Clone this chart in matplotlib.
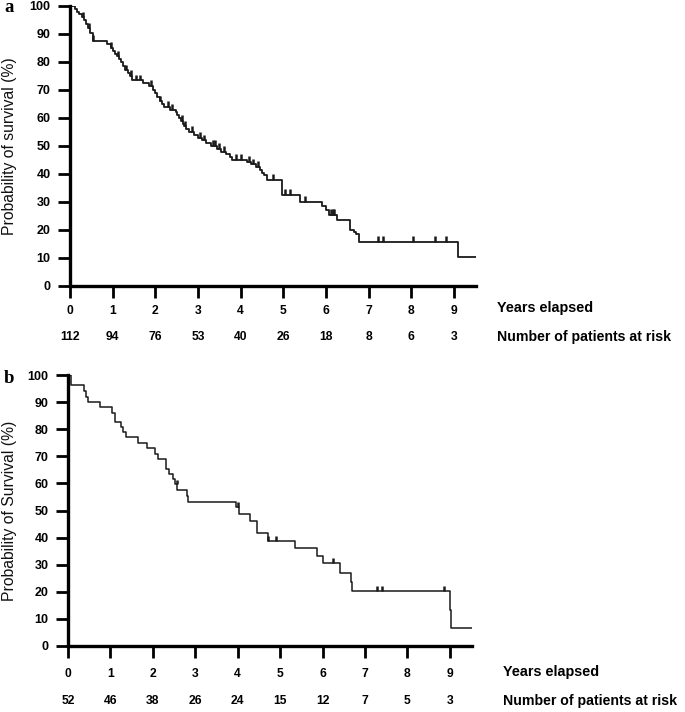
import numpy as np
import matplotlib
matplotlib.use('Agg')
import matplotlib.pyplot as plt

plt.rcParams['font.family'] = ['Liberation Sans', 'DejaVu Sans']

# panel a - event times (years) and survival (%) after each step
times_a = [0.12, 0.17, 0.22, 0.27, 0.33, 0.38, 0.43, 0.48, 0.53, 0.87, 0.95, 1.0, 1.05, 1.1, 1.15, 1.2,
           1.25, 1.3, 1.35, 1.4, 1.45, 1.7, 1.85, 1.95, 2.0, 2.05, 2.1, 2.15, 2.2, 2.35, 2.48, 2.52, 2.56,
           2.6, 2.64, 2.68, 2.72, 2.8, 2.9, 3.0, 3.1, 3.2, 3.3, 3.45, 3.55, 3.65, 3.75, 3.8, 4.15, 4.25,
           4.35, 4.45, 4.5, 4.55, 4.62, 4.96, 5.39, 5.9, 6.0, 6.08, 6.25, 6.56, 6.65, 6.7, 6.77, 9.09]
surv_a = [99, 98, 97, 96, 95, 93.5, 92, 90.5, 87.5, 86.5, 85, 84, 83, 82, 81, 80,
          78.5, 77, 76, 75, 73.5, 72.5, 71.5, 70, 69, 67.5, 66, 65, 64, 63, 62, 61, 60,
          59, 58, 57, 56, 55, 54, 53, 52, 51, 50, 49, 48, 47, 46, 45, 44.3, 43.5,
          42.5, 41.5, 40.5, 39.5, 38, 32.5, 30, 28.5, 27, 25.5, 23.6, 20, 19.3, 18.6, 15.8, 10.5]
cens_a = [0.05, 0.3, 0.45, 0.55, 0.97, 1.12, 1.32, 1.42, 1.55, 1.65, 1.9, 2.1, 2.3, 2.4, 2.62, 2.7,
          2.85, 3.05, 3.15, 3.35, 3.4, 3.5, 3.6, 3.9, 4.0, 4.2, 4.3, 4.4, 4.75, 5.05, 5.15, 5.5,
          6.12, 6.17, 6.2, 7.22, 7.34, 8.04, 8.55, 8.81]
risk_a = [112, 94, 76, 53, 40, 26, 18, 8, 6, 3]

# panel b
times_b = [0.06, 0.38, 0.42, 0.48, 0.75, 1.03, 1.1, 1.25, 1.3, 1.37, 1.66, 1.85, 2.05, 2.13, 2.31,
           2.38, 2.48, 2.52, 2.58, 2.8, 2.83, 3.96, 4.04, 4.29, 4.45, 4.72, 5.35, 5.87, 6.02, 6.42,
           6.66, 6.7, 8.99, 9.03]
surv_b = [96.2, 94, 92, 90.1, 88.3, 86, 82.8, 80.9, 79, 77, 74.8, 73, 70.8, 69.1, 65.2,
          63.3, 61.5, 59.6, 57.6, 55.5, 53.3, 51.4, 48.7, 46.2, 41.6, 38.9, 36, 33.2, 30.5, 27,
          23.7, 20.3, 13.3, 6.5]
cens_b = [0.02, 2.56, 4.0, 4.72, 4.9, 6.24, 7.29, 7.39, 8.85]
risk_b = [52, 46, 38, 26, 24, 15, 12, 7, 5, 3]

years = list(range(10))

W, H = 685, 712
fig = plt.figure(figsize=(W / 100, H / 100), dpi=100)


def km_panel(rect, times, surv, cens, risk, ylab, ylab_py, letter, letter_xy, tick_pad, row_px, tick_h, lw):
    ax = fig.add_axes(rect)
    t = np.array([0] + times + [9.52])
    s = np.array([100] + surv + [surv[-1]])
    ax.step(t, s, where='post', color='#1a1a1a', lw=lw)
    idx = np.searchsorted(t, cens, side='right') - 1
    ax.vlines(cens, s[idx], s[idx] + tick_h, color='#1a1a1a', lw=1.8)
    ax.set_xlim(0, 9.52)
    ax.set_ylim(0, 100)
    for sp in ['top', 'right']:
        ax.spines[sp].set_visible(False)
    for sp in ['left', 'bottom']:
        ax.spines[sp].set_linewidth(2.4)
    ax.set_yticks(range(0, 101, 10))
    ax.set_xticks(years)
    ax.tick_params(axis='y', length=8.5, width=2.0, pad=5.5, labelsize=9)
    ax.tick_params(axis='x', length=8.5, width=2.0, pad=tick_pad, labelsize=8.7)
    for lab in ax.get_xticklabels() + ax.get_yticklabels():
        lab.set_fontweight('bold')
    fig.text(10 / W, 1 - ylab_py / H, ylab, rotation=90, ha='center', va='center',
             fontsize=11.3, color='#111111')
    # numbers at risk
    trans = matplotlib.transforms.blended_transform_factory(ax.transData, fig.transFigure)
    for x, n in zip(years, risk):
        ax.text(x, 1 - row_px[1] / H, str(n), transform=trans, ha='center', va='center',
                fontsize=8.7, fontweight='bold', clip_on=False)
    fig.text(row_px[2] / W, 1 - row_px[0] / H, 'Years elapsed', ha='left', va='center',
             fontsize=10.4, fontweight='bold')
    fig.text(row_px[2] / W, 1 - row_px[1] / H, 'Number of patients at risk', ha='left', va='center',
             fontsize=10.2, fontweight='bold')
    fig.text(letter_xy[0] / W, 1 - letter_xy[1] / H, letter, ha='left', va='baseline',
             fontsize=13.5, fontweight='bold', family='Liberation Serif')
    return ax


km_panel([70 / W, 1 - 286 / H, 406 / W, 280 / H], times_a, surv_a, cens_a, risk_a,
         'Probability of survival (%)', 146, 'a', (4, 12), 5.0, (308, 337, 497), 2.0, 1.3)
km_panel([68 / W, 1 - 646 / H, 404 / W, 271 / H], times_b, surv_b, cens_b, risk_b,
         'Probability of Survival (%)', 511, 'b', (4, 383), 7.0, (672, 701, 503), 1.8, 1.1)

fig.savefig('out.png', dpi=100)
